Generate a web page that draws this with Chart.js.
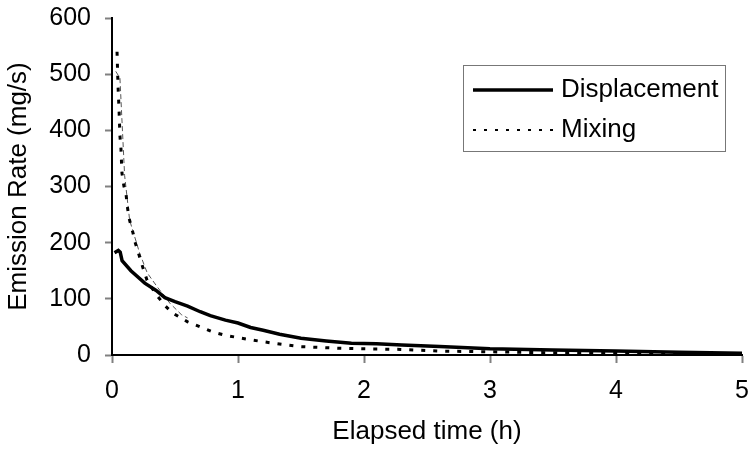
<!DOCTYPE html>
<html>
<head>
<meta charset="utf-8">
<script src="https://cdn.jsdelivr.net/npm/chart.js@4.4.0/dist/chart.umd.min.js"></script>
<style>
  body { margin: 0; background: #fff; }
</style>
</head>
<body>
<canvas id="emission" width="751" height="451"></canvas>
<script>
// values (time in h, rate in mg/s)
var dispTime = [0.02, 0.05, 0.065, 0.08, 0.15, 0.26, 0.35, 0.42, 0.5, 0.6, 0.7, 0.78, 0.9, 1.0, 1.1, 1.2, 1.33, 1.5, 1.7, 1.9, 2.1, 2.3, 2.6, 3.0, 3.5, 4.0, 4.5, 5.0];
var dispRate = [182, 186, 183, 168, 150, 128, 115, 102, 95, 87, 77, 70, 62, 57, 49, 44, 37, 30, 25, 21, 20, 18, 15, 11, 9, 7, 5, 3];

var mixTime = [0.04, 0.048, 0.056, 0.063, 0.071, 0.079, 0.095, 0.111, 0.12, 0.135, 0.167, 0.183, 0.246, 0.278, 0.35, 0.42, 0.48, 0.6, 0.7, 0.8, 0.9, 1.0, 1.1, 1.28, 1.49, 1.8, 2.0, 2.29, 2.6, 2.9, 3.5, 4.0, 4.5, 5.0];
var mixRate = [540, 478, 436, 390, 368, 324, 300, 288, 267, 244, 217, 201, 155, 133, 108, 88, 75, 59, 50, 41, 35, 31, 27, 21, 15, 12, 11, 10, 7, 6, 4, 3, 2, 2];

// thin grey line that sits under the mixing curve at the start
var thinTime = [0.03, 0.063, 0.1, 0.14, 0.22, 0.28, 0.36, 0.46, 0.55, 0.6];
var thinRate = [505, 493, 320, 240, 181, 146, 121, 92, 72, 66];

var xTicks = [0, 1, 2, 3, 4, 5];
var yTicks = [0, 100, 200, 300, 400, 500, 600];

function pts(xs, ys) {
    return xs.map(function (x, i) { return { x: x, y: ys[i] }; });
}

var fontFam = "'Liberation Sans', Arial, sans-serif";

// legend box in the top right of the plot
var boxLegend = {
    id: 'boxLegend',
    afterDraw: function (chart) {
        var ctx = chart.ctx;
        var ds = chart.data.datasets;
        ctx.save();
        ctx.strokeStyle = '#777';
        ctx.lineWidth = 1;
        ctx.strokeRect(463.5, 65.5, 262, 86);
        var rows = [{ d: ds[0], y: 90, w: 3.5 }, { d: ds[1], y: 130, w: 2 }];
        rows.forEach(function (r) {
            ctx.beginPath();
            ctx.strokeStyle = r.d.borderColor;
            ctx.lineWidth = r.w;
            ctx.setLineDash(r.d.borderDash ? [3, 8] : []);
            ctx.moveTo(473, r.y);
            ctx.lineTo(553, r.y);
            ctx.stroke();
            ctx.setLineDash([]);
            ctx.fillStyle = '#000';
            ctx.font = '26px ' + fontFam;
            ctx.textBaseline = 'middle';
            ctx.textAlign = 'left';
            ctx.fillText(r.d.label, 561, r.y);
        });
        ctx.restore();
    }
};

var ctx = document.getElementById("emission");
var myChart = new Chart(ctx, {
    type: 'scatter',
    data: {
        datasets: [{
            label: 'Displacement',
            data: pts(dispTime, dispRate),
            showLine: true,
            borderColor: '#000',
            borderWidth: 3.5,
            pointRadius: 0,
            order: 1
        }, {
            label: 'Mixing',
            data: pts(mixTime, mixRate),
            showLine: true,
            borderColor: '#000',
            borderWidth: 3,
            borderDash: [4, 8],
            pointRadius: 0,
            order: 2
        }, {
            label: '',
            data: pts(thinTime, thinRate),
            showLine: true,
            borderColor: '#555',
            borderWidth: 1,
            borderDash: [5, 3],
            pointRadius: 0,
            order: 3
        }]
    },
    options: {
        responsive: false,
        animation: false,
        layout: { padding: { left: 0, top: 18, right: 9, bottom: 0 } },
        plugins: {
            legend: { display: false },
            tooltip: { enabled: false }
        },
        scales: {
            x: {
                type: 'linear',
                min: 0,
                max: 5,
                afterFit: function (s) { s.height = 96; s.paddingLeft = 0; s.paddingRight = 0; },
                afterBuildTicks: function (s) { s.ticks = xTicks.map(function (v) { return { value: v }; }); },
                ticks: { color: '#000', font: { family: fontFam, size: 25 }, padding: 13, maxRotation: 0 },
                grid: { drawOnChartArea: false, drawTicks: true, tickLength: 8, tickColor: '#808080', tickWidth: 2 },
                border: { color: '#000', width: 2 },
                title: {
                    display: true,
                    text: 'Elapsed time (h)',
                    color: '#000',
                    font: { family: fontFam, size: 26 },
                    padding: { top: 0, bottom: 4 }
                }
            },
            y: {
                min: 0,
                max: 600,
                afterFit: function (s) { s.width = 112; s.paddingTop = 0; s.paddingBottom = 0; },
                afterBuildTicks: function (s) { s.ticks = yTicks.map(function (v) { return { value: v }; }); },
                ticks: { color: '#000', font: { family: fontFam, size: 25 }, padding: 14 },
                grid: { drawOnChartArea: false, drawTicks: true, tickLength: 7, tickColor: '#808080', tickWidth: 2 },
                border: { color: '#000', width: 2 },
                title: {
                    display: true,
                    text: 'Emission Rate (mg/s)',
                    color: '#000',
                    font: { family: fontFam, size: 26 },
                    padding: { top: 3, bottom: 0 }
                }
            }
        }
    },
    plugins: [boxLegend]
});
</script>
</body>
</html>
